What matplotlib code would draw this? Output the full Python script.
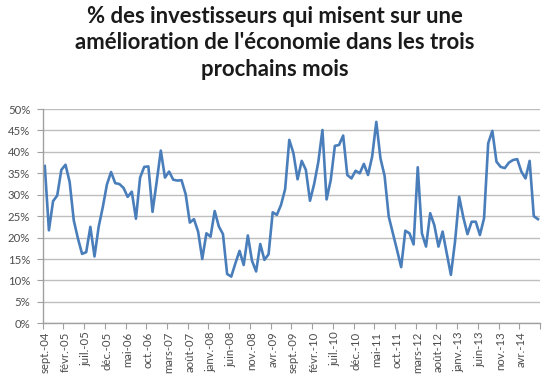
import matplotlib
matplotlib.use("Agg")
import matplotlib.pyplot as plt
import numpy as np

values = [36.7, 21.7, 28.5, 29.8, 35.8, 37.0, 33.0, 24.0, 19.8, 16.2,
          16.6, 22.5, 15.6, 22.5, 27.1, 32.4, 35.3, 32.7, 32.5, 31.6,
          29.5, 30.7, 24.4, 34.0, 36.5, 36.6, 26.0, 33.0, 40.3, 34.0,
          35.4, 33.5, 33.3, 33.4, 30.1, 23.5, 24.3, 21.4, 15.0, 21.0,
          20.2, 26.2, 22.6, 20.8, 11.5, 10.9, 14.0, 16.9, 13.6, 20.5,
          14.6, 12.1, 18.5, 14.8, 16.1, 25.9, 25.3, 27.6, 31.3, 42.8,
          39.7, 33.6, 37.9, 35.8, 28.6, 32.5, 37.6, 45.1, 28.9, 33.4,
          41.4, 41.6, 43.8, 34.6, 33.8, 35.6, 35.0, 37.2, 34.6, 38.9,
          47.0, 38.5, 34.4, 24.9, 21.0, 17.1, 13.1, 21.6, 21.0, 18.4,
          36.4, 21.0, 17.9, 25.7, 22.9, 17.9, 21.4, 16.3, 11.3, 19.1,
          29.5, 24.7, 20.8, 23.7, 23.7, 20.6, 24.5, 42.0, 44.9, 37.7,
          36.5, 36.2, 37.5, 38.1, 38.3, 35.4, 33.8, 37.9, 25.0, 24.3]

tick_labels = ["sept.-04", "févr.-05", "juil.-05", "déc.-05", "mai-06", "oct.-06",
               "mars-07", "août-07", "janv.-08", "juin-08", "nov.-08", "avr.-09",
               "sept.-09", "févr.-10", "juil.-10", "déc.-10", "mai-11", "oct.-11",
               "mars-12", "août-12", "janv.-13", "juin-13", "nov.-13", "avr.-14"]

title = "% des investisseurs qui misent sur une\namélioration de l'économie dans les trois\nprochains mois"

plt.rcParams['font.family'] = ['Lato', 'DejaVu Sans']

fig = plt.figure(figsize=(5.5, 3.83), dpi=100)
ax = fig.add_axes([42.7/550, 1 - 323.3/383, (540 - 42.7)/550, (323.3 - 109)/383])

n = len(values)
x = np.arange(n)
ax.plot(x, np.array(values) / 100.0, color="#4A7EBB", linewidth=1.9, solid_joinstyle="round")

ax.set_xlim(-0.5, n - 0.5)
ax.set_ylim(0, 0.5)
yt = np.arange(0, 0.51, 0.05)
ax.set_yticks(yt)
ax.set_yticklabels([f"{int(round(v*100))}%" for v in yt], fontsize=8.2, color="#4D4D4D")
ax.grid(axis="y", color="#BEBEBE", linewidth=1.0)
ax.set_axisbelow(True)

ax.set_xticks(np.arange(-0.5, n, 5))
ax.set_xticklabels([])
ax.set_xticks(np.arange(0, n, 5), minor=True)
ax.set_xticklabels(tick_labels, minor=True, rotation=90, fontsize=8.2, color="#4D4D4D")
ax.tick_params(axis="x", which="major", length=4, color="#A0A0A0", direction="out")
ax.tick_params(axis="x", which="minor", length=0, pad=6)
ax.tick_params(axis="y", length=4, color="#A0A0A0", pad=5)

for s in ["top", "right"]:
    ax.spines[s].set_visible(False)
for s in ["left", "bottom"]:
    ax.spines[s].set_color("#A0A0A0")
    ax.spines[s].set_linewidth(1.0)

fig.text(0.5, 0.985, title, ha="center", va="top", fontsize=15.9, fontweight="bold",
         linespacing=1.33, color="#1A1A1A")

fig.savefig("out.png", dpi=100)
